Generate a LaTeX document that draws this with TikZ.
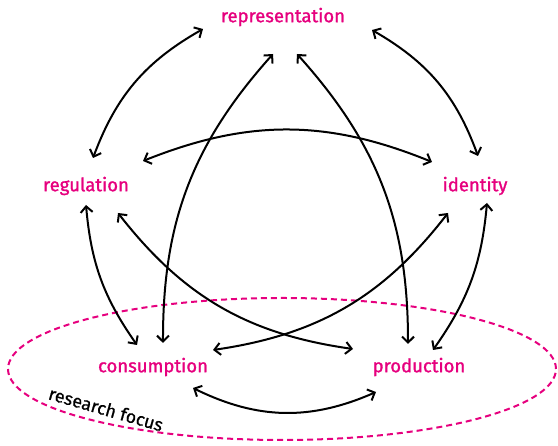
\documentclass[tikz,border=0pt]{standalone}
\usepackage{fontspec}
\setmainfont{Fira Sans}
\usetikzlibrary{arrows.meta}
\definecolor{circmagenta}{RGB}{230,0,126}
\tikzset{
  stage/.style={text=circmagenta, font=\fontsize{18.5}{20}\selectfont\addfontfeature{FakeBold=1.3}, inner sep=0pt},
  link/.style={line width=2pt, {Straight Barb[length=6pt,width=12pt]}-{Straight Barb[length=6pt,width=12pt]}},
  focus/.style={draw=circmagenta, line width=2pt, dash pattern=on 6pt off 4pt}
}
\begin{document}
\begin{tikzpicture}[x=1pt, y=1pt]
  \useasboundingbox (0,0) rectangle (558,446);

  % Research focus (bottom)
  \draw[focus] (282,77) ellipse [x radius=274, y radius=71];
  \node[font=\fontsize{18}{19}\selectfont\addfontfeature{FakeBold=0.8}, rotate=-16] (focuslabel) at (106,37) {research focus};

  % Stages of the circuit
  \node[stage] (rep) at (283,429) {representation};
  \node[stage] (reg) at (86,260) {regulation};
  \node[stage] (ide) at (475,260) {identity};
  \node[stage] (con) at (153,79) {consumption};
  \node[stage] (pro) at (419,79) {production};

  % Outer ring
  \draw[link] ([shift={(-80,-12)}]rep.center) to[bend right=20] ([shift={(7,28)}]reg.center);
  \draw[link] ([shift={(89,-13)}]rep.center) to[bend left=20] ([shift={(3,30)}]ide.center);
  \draw[link] ([shift={(0,-19)}]reg.center) to[bend right=15] ([shift={(-16,22)}]con.center);
  \draw[link] ([shift={(12,-17)}]ide.center) to[bend left=15] ([shift={(14,17)}]pro.center);
  \draw[link] ([shift={(40,-21)}]con.center) to[bend right=25] ([shift={(-43,-25)}]pro.center);

  % Inner star
  \draw[link] ([shift={(57,25)}]reg.center) to[bend left=22] ([shift={(-43,24)}]ide.center);
  \draw[link] ([shift={(-10,-37)}]rep.center) to[bend right=21] ([shift={(10,24)}]con.center);
  \draw[link] ([shift={(14,-37)}]rep.center) to[bend left=21] ([shift={(-11,23)}]pro.center);
  \draw[link] ([shift={(32,-27)}]reg.center) to[bend right=22] ([shift={(-66,18)}]pro.center);
  \draw[link] ([shift={(-27,-27)}]ide.center) to[bend left=22] ([shift={(60,17)}]con.center);
\end{tikzpicture}
\end{document}
